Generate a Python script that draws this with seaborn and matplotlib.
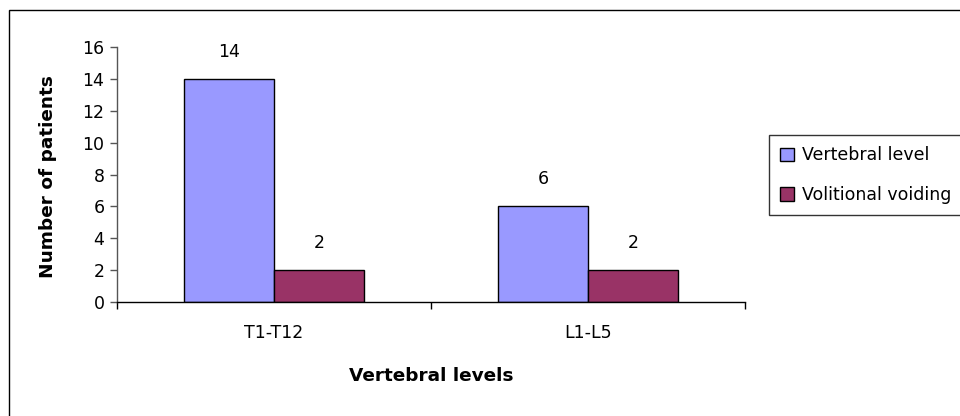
import matplotlib
matplotlib.use("Agg")
import matplotlib.pyplot as plt
import seaborn as sns
import pandas as pd
from matplotlib.patches import Rectangle, Patch

categories = ["T1-T12", "L1-L5"]
series_names = ["Vertebral level", "Volitional voiding"]
vertebral_level = [14, 6]
volitional_voiding = [2, 2]
y_ticks = [0, 2, 4, 6, 8, 10, 12, 14, 16]

df = pd.DataFrame({
    "category": categories * 2,
    "series": [series_names[0]] * 2 + [series_names[1]] * 2,
    "value": vertebral_level + volitional_voiding,
})

sns.set_theme(style="white")
plt.rcParams["font.family"] = ["DejaVu Sans"]
plt.rcParams["text.color"] = "black"
plt.rcParams["axes.labelcolor"] = "black"
FS = 12.5
FSB = 13.3

fig = plt.figure(figsize=(9.6, 4.16), dpi=100)
fig.patch.set_facecolor("white")
ax = fig.add_axes([117/960, 1-302/416, (745-117)/960, (302-47)/416])

sns.barplot(data=df, x="category", y="value", hue="series", order=categories,
            hue_order=series_names, palette=["#9999FF", "#993366"],
            width=0.573, edgecolor="black", linewidth=1, saturation=1,
            ax=ax, legend=False)

for cont in ax.containers:
    ax.bar_label(cont, padding=13, fontsize=FS, color="black")

ax.set_xlim(-0.5, 1.5)
ax.set_ylim(0, 16)
ax.set_yticks(y_ticks)
ax.set_yticklabels([str(t) for t in y_ticks], fontsize=FS)
ax.tick_params(axis="y", left=True, length=5, width=1, color="#555555",
               labelcolor="black", pad=4)
ax.set_xticks([0, 1])
ax.set_xticklabels(categories, fontsize=FS)
ax.tick_params(axis="x", bottom=False, pad=10, labelcolor="black")
ax.set_xticks([-0.5, 0.5, 1.5], minor=True)
ax.tick_params(axis="x", which="minor", bottom=True, length=5, width=1, color="black")

for s in ["top", "right"]:
    ax.spines[s].set_visible(False)
ax.spines["left"].set_color("#555555")
ax.spines["left"].set_linewidth(1)
ax.spines["bottom"].set_color("black")
ax.spines["bottom"].set_linewidth(1)

ax.set_xlabel("Vertebral levels", fontsize=FSB, fontweight="bold", labelpad=18)
ax.set_ylabel("Number of patients", fontsize=FSB, fontweight="bold", labelpad=18)
ax.yaxis.set_label_coords(-0.096, 0.49)

handles = [Patch(facecolor="#9999FF", edgecolor="black", linewidth=1),
           Patch(facecolor="#993366", edgecolor="black", linewidth=1)]
leg = fig.legend(handles, series_names, loc="upper left",
                 bbox_to_anchor=(769/960, 1-135/416), fontsize=FS,
                 frameon=True, fancybox=False, shadow=False,
                 handlelength=0.8, handleheight=0.8, handletextpad=0.45,
                 labelspacing=1.25, borderpad=0.65, borderaxespad=0)
leg.get_frame().set_edgecolor("black")
leg.get_frame().set_linewidth(1)

fig.patches.append(Rectangle((9/960, -0.1), 1.2, 1-10/416+0.1, transform=fig.transFigure,
                             fill=False, edgecolor="black", linewidth=1))

fig.savefig("out.png", dpi=100)
